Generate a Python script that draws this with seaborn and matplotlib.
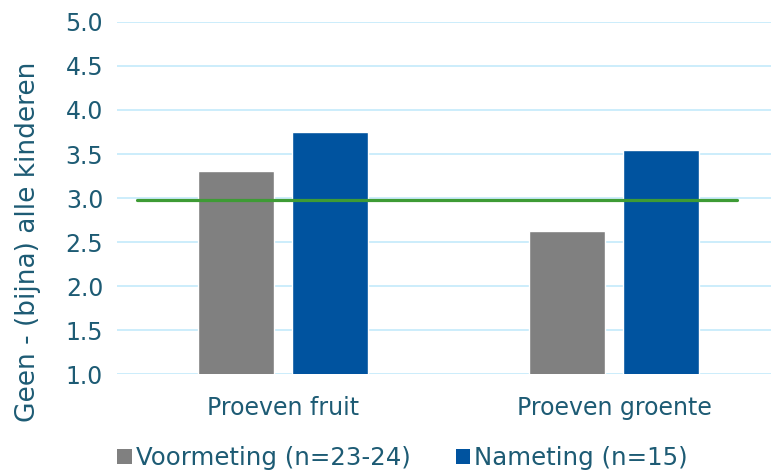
import matplotlib
matplotlib.use("Agg")
import matplotlib.pyplot as plt
import seaborn as sns
import pandas as pd
from matplotlib.patches import Patch

categories = ["Proeven fruit", "Proeven groente"]
series = ["Voormeting (n=23-24)", "Nameting (n=15)"]
voormeting = [3.31, 2.62]
nameting = [3.75, 3.54]
norm_value = 2.98
yticks = [1.0, 1.5, 2.0, 2.5, 3.0, 3.5, 4.0, 4.5, 5.0]
ylabel = "Geen - (bijna) alle kinderen"

colors = ["#808080", "#00539F"]
text_color = "#1D5B74"
grid_color = "#C8ECFB"
green = "#3E9B35"

df = pd.DataFrame({
    "cat": categories * 2,
    "serie": [series[0]] * 2 + [series[1]] * 2,
    "val": voormeting + nameting,
})

sns.set_theme(style="white")
plt.rcParams["font.family"] = ["DejaVu Sans"]

fig = plt.figure(figsize=(7.71, 4.72), dpi=100)
ax = fig.add_axes([0.1518, 0.2076, 0.8482, 0.7458])

sns.barplot(data=df, x="cat", y="val", hue="serie", palette=colors,
            width=0.568, gap=0.20, ax=ax, legend=False, saturation=1,
            errorbar=None)

ax.set_ylim(1.0, 5.0)
ax.set_xlim(-0.5015, 1.474)
ax.set_yticks(yticks)
ax.set_yticklabels([f"{t:.1f}" for t in yticks])
ax.yaxis.grid(True, color=grid_color, linewidth=1.3)
ax.set_axisbelow(True)
for s in ax.spines.values():
    s.set_visible(False)
ax.tick_params(axis="both", length=0, labelsize=17, colors=text_color)
ax.tick_params(axis="y", pad=10)
ax.tick_params(axis="x", pad=16)
ax.set_xlabel("")
ax.set_ylabel(ylabel, fontsize=19, color=text_color)
ax.yaxis.set_label_coords(-0.117, 0.375)

# reference line
xmin_f = (137 - 117) / (771 - 117)
xmax_f = (737 - 117) / (771 - 117)
ax.axhline(norm_value, xmin=xmin_f, xmax=xmax_f, color=green, linewidth=2.3, zorder=5)

handles = [Patch(facecolor=c, edgecolor="none") for c in colors]
leg = fig.legend(handles, series, loc="lower left", bbox_to_anchor=(115 / 771, -0.002),
                 ncol=2, frameon=False, fontsize=17.6, handlelength=0.58,
                 handleheight=0.58, handletextpad=0.17, columnspacing=1.85,
                 borderpad=0.1, borderaxespad=0)
for t in leg.get_texts():
    t.set_color(text_color)

fig.savefig("out.png", dpi=100)
